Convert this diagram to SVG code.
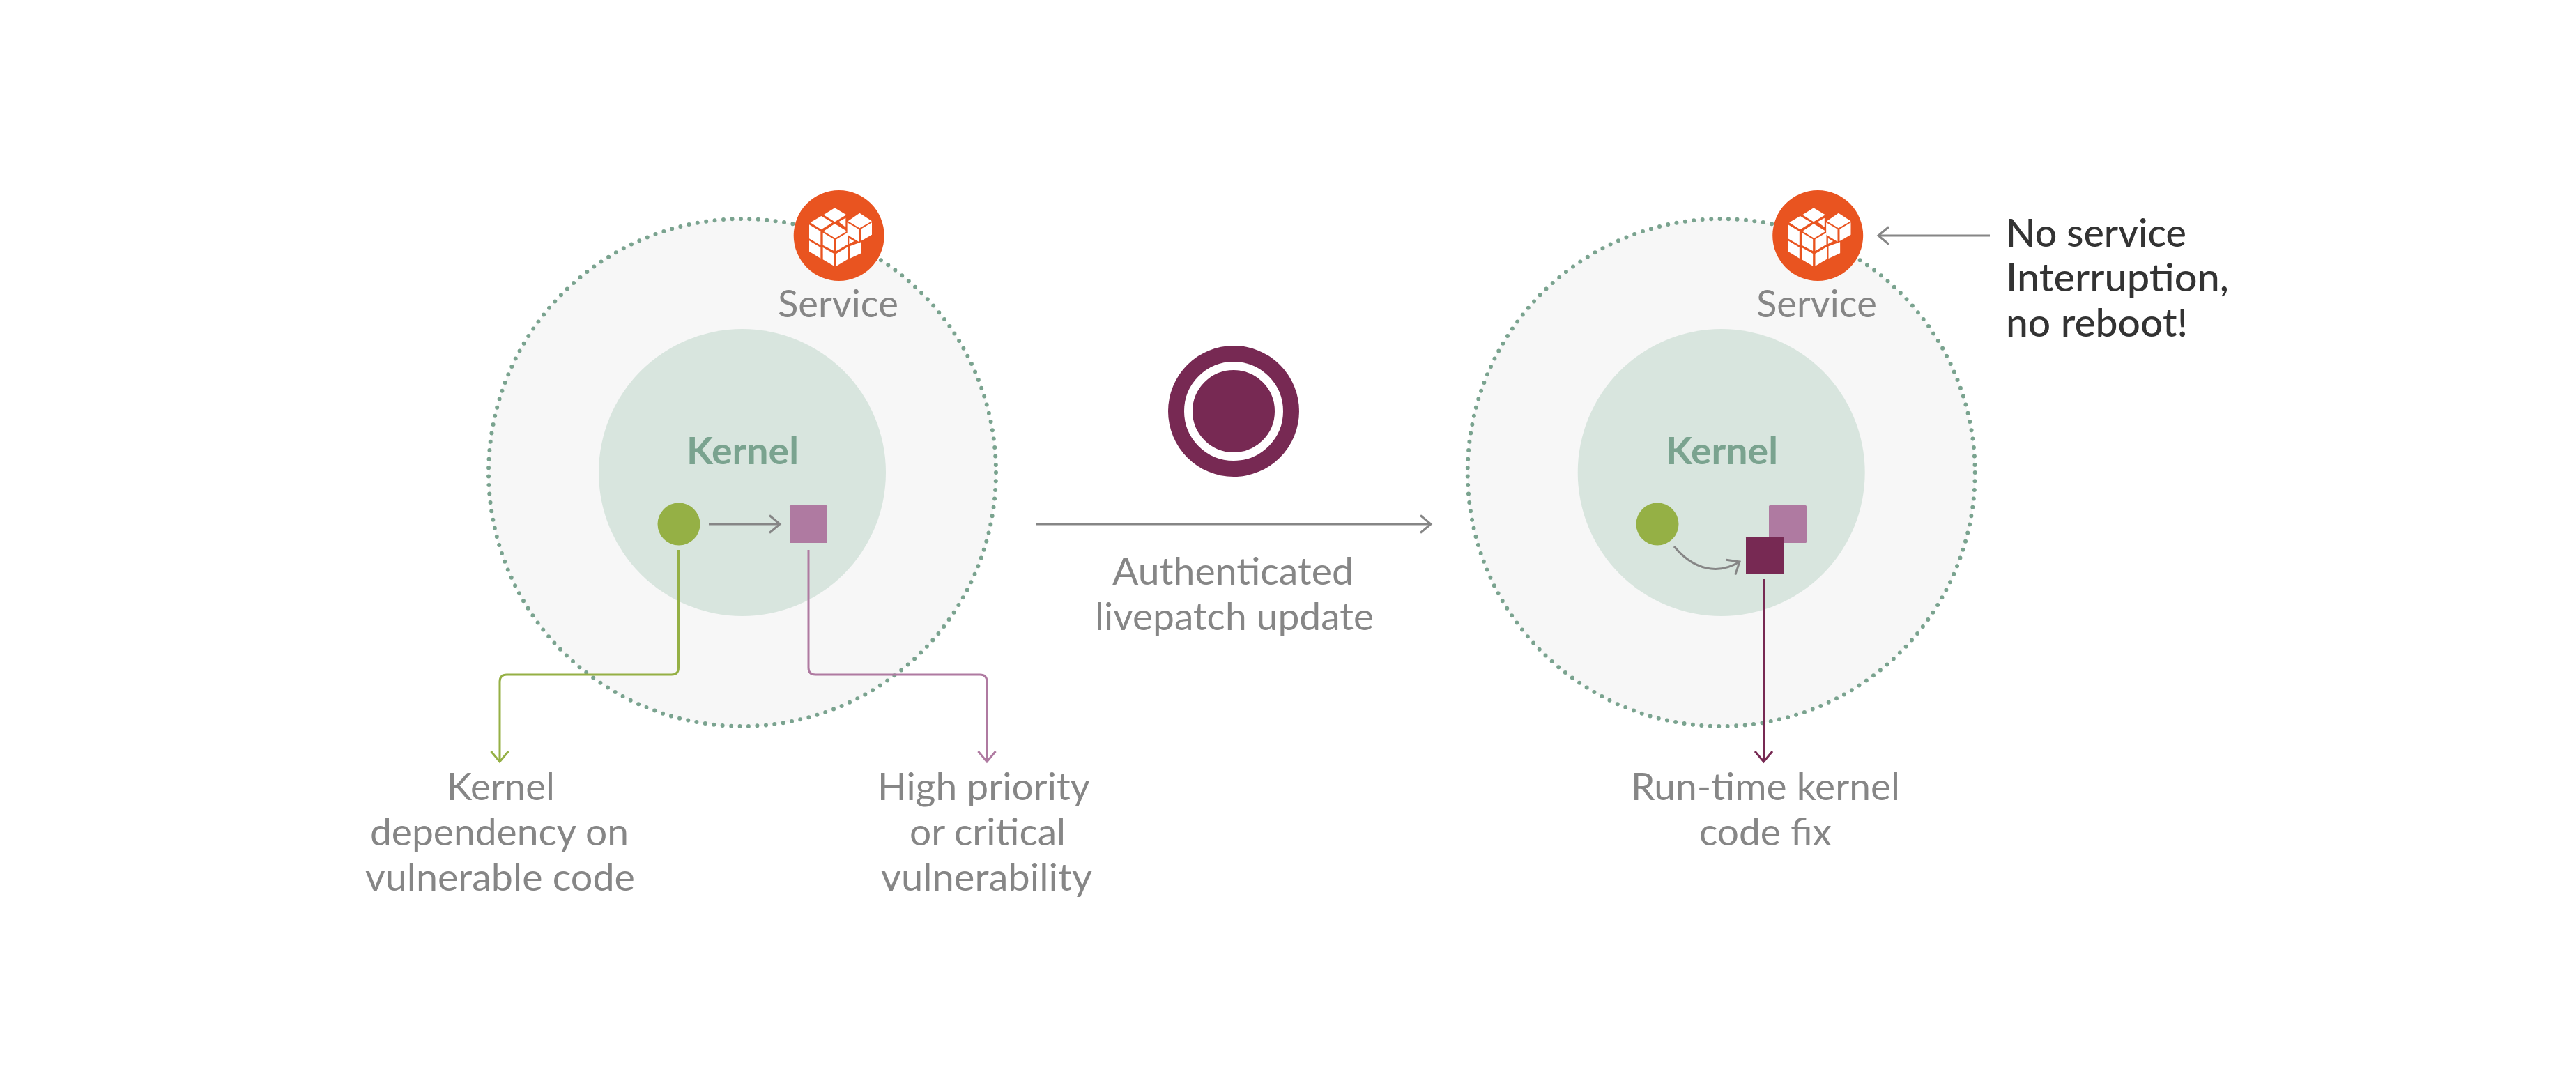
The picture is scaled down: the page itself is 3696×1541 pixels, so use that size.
<svg xmlns="http://www.w3.org/2000/svg" xmlns:xlink="http://www.w3.org/1999/xlink" width="3696" height="1541" viewBox="0 0 3696 1541">
<style>
text{font-family:"Lato","Open Sans","Liberation Sans",sans-serif;font-size:55px;font-weight:400;fill:#868686}
.k{font-size:54px;font-weight:700;fill:#7aa38f}
.b{font-size:55px;font-weight:500;fill:#333}
.outer{fill:#f7f7f7}
.dots{fill:none;stroke:#7aa38f;stroke-width:6;stroke-linecap:round;stroke-dasharray:0 12.5}
.inner{fill:#d8e5de}
.g{fill:#95b045}
.p{fill:#af7aa1}
.d{fill:#772953}
.c{fill:none;stroke-width:3}
.cg{stroke:#868686}.cgr{stroke:#95b045}.cp{stroke:#af7aa1}.cd{stroke:#772953}
</style>
<defs>
<marker id="mg" markerUnits="userSpaceOnUse" markerWidth="40" markerHeight="40" refX="20" refY="20" orient="auto" overflow="visible"><path d="M5,7.5L20,20L5,32.5" fill="none" stroke="#868686" stroke-width="3"/></marker>
<marker id="mgr" markerUnits="userSpaceOnUse" markerWidth="40" markerHeight="40" refX="20" refY="20" orient="auto" overflow="visible"><path d="M5,7.5L20,20L5,32.5" fill="none" stroke="#95b045" stroke-width="3"/></marker>
<marker id="mp" markerUnits="userSpaceOnUse" markerWidth="40" markerHeight="40" refX="20" refY="20" orient="auto" overflow="visible"><path d="M5,7.5L20,20L5,32.5" fill="none" stroke="#af7aa1" stroke-width="3"/></marker>
<marker id="md" markerUnits="userSpaceOnUse" markerWidth="40" markerHeight="40" refX="20" refY="20" orient="auto" overflow="visible"><path d="M5,7.5L20,20L5,32.5" fill="none" stroke="#772953" stroke-width="3"/></marker>
<g id="svc">
<circle cx="1203.7" cy="338" r="65" fill="#e95420"/>
<g fill="#fff" transform="translate(1060 240) scale(.3333)">
<path d="M413,175L463,205L413,235L365,205Z"/>
<path d="M355,210L403,238L355,268L308,238Z"/>
<path d="M413,243L465,275L415,305L365,275Z"/>
<path d="M520,197L573,232L520,262L470,232Z"/>
<path d="M467,238L516,266V320L467,290Z"/>
<path d="M525,266L573,238V290L525,318Z"/>
<path d="M303,247L352,276V335L303,307Z"/>
<path d="M303,316L352,345V392L303,362Z"/>
<path d="M362,281L410,310V360L362,335Z"/>
<path d="M420,310L468,281V332L420,360Z"/>
<path d="M362,345L410,372V425L362,397Z"/>
<path d="M420,372L470,342V395L420,425Z"/>
<path d="M477,340L527,322V370L477,393Z"/>
<path d="M475,305L497,318L475,330Z"/>
<path d="M430,235L460,218V258Z"/>
</g>
</g>
</defs>
<g id="node-left-service-area">
<circle class="outer" cx="1065" cy="678" r="364"/>
<circle class="dots" cx="1065" cy="678" r="364"/>
</g>
<g id="node-right-service-area">
<circle class="outer" cx="2469.7" cy="678" r="364"/>
<circle class="dots" cx="2469.7" cy="678" r="364"/>
</g>
<g id="node-left-kernel">
<circle class="inner" cx="1065" cy="678" r="206"/>
<text class="k" x="985" y="666" textLength="161" lengthAdjust="spacingAndGlyphs">Kernel</text>
</g>
<g id="node-right-kernel">
<circle class="inner" cx="2469.7" cy="678" r="206"/>
<text class="k" x="2390" y="666" textLength="161" lengthAdjust="spacingAndGlyphs">Kernel</text>
</g>
<g id="connectors">
<path class="c cg" d="M1017,752H1119" marker-end="url(#mg)"/>
<path class="c cgr" d="M973.5,789V958Q973.5,968 963.5,968H727Q717,968 717,978V1093" marker-end="url(#mgr)"/>
<path class="c cp" d="M1160,789V958Q1160,968 1170,968H1406Q1416,968 1416,978V1093" marker-end="url(#mp)"/>
<path class="c cg" d="M1487,752H2053" marker-end="url(#mg)"/>
<path class="c cg" d="M2402,784C2430,818 2465,825 2496,806" marker-end="url(#mg)"/>
<path class="c cd" d="M2530.5,831V1093" marker-end="url(#md)"/>
<path class="c cg" d="M2855,338H2695" marker-end="url(#mg)"/>
</g>
<g id="node-left-service">
<use xlink:href="#svc" href="#svc"/>
<text x="1116" y="455" textLength="173" lengthAdjust="spacingAndGlyphs">Service</text>
</g>
<g id="node-right-service">
<use xlink:href="#svc" href="#svc" x="1404.5"/>
<text x="2520" y="455" textLength="173" lengthAdjust="spacingAndGlyphs">Service</text>
</g>
<g id="node-left-dep"><circle class="g" cx="974" cy="752" r="30.5"/></g>
<g id="node-left-vuln"><rect class="p" x="1133" y="725" width="54" height="54" rx="1.5"/></g>
<g id="node-right-dep"><circle class="g" cx="2378" cy="752" r="30.5"/></g>
<g id="node-right-vuln"><rect class="p" x="2538" y="725" width="54" height="54" rx="1.5"/></g>
<g id="node-right-fix"><rect class="d" x="2505" y="770" width="54" height="54" rx="1.5"/></g>
<g id="node-livepatch">
<circle cx="1770" cy="590" r="94" fill="#772953"/>
<circle cx="1770" cy="590" r="65" fill="#772953" stroke="#fff" stroke-width="12"/>
</g>
<g id="label-update">
<text x="1596" y="839" textLength="346" lengthAdjust="spacingAndGlyphs">Authenticated</text>
<text x="1571" y="904" textLength="400" lengthAdjust="spacingAndGlyphs">livepatch update</text>
</g>
<g id="label-dep">
<text x="641" y="1148" textLength="155" lengthAdjust="spacingAndGlyphs">Kernel</text>
<text x="531" y="1213" textLength="371" lengthAdjust="spacingAndGlyphs">dependency on</text>
<text x="524" y="1278" textLength="387" lengthAdjust="spacingAndGlyphs">vulnerable code</text>
</g>
<g id="label-vuln">
<text x="1259" y="1148" textLength="305" lengthAdjust="spacingAndGlyphs">High priority</text>
<text x="1305" y="1213" textLength="224" lengthAdjust="spacingAndGlyphs">or critical</text>
<text x="1264" y="1278" textLength="303" lengthAdjust="spacingAndGlyphs">vulnerability</text>
</g>
<g id="label-fix">
<text x="2340" y="1148" textLength="386" lengthAdjust="spacingAndGlyphs">Run-time kernel</text>
<text x="2438" y="1213" textLength="190" lengthAdjust="spacingAndGlyphs">code fix</text>
</g>
<g id="label-noreboot">
<text class="b" x="2878" y="354" textLength="259" lengthAdjust="spacingAndGlyphs">No service</text>
<text class="b" x="2878" y="418" textLength="320" lengthAdjust="spacingAndGlyphs">Interruption,</text>
<text class="b" x="2878" y="483" textLength="261" lengthAdjust="spacingAndGlyphs">no reboot!</text>
</g>
</svg>
